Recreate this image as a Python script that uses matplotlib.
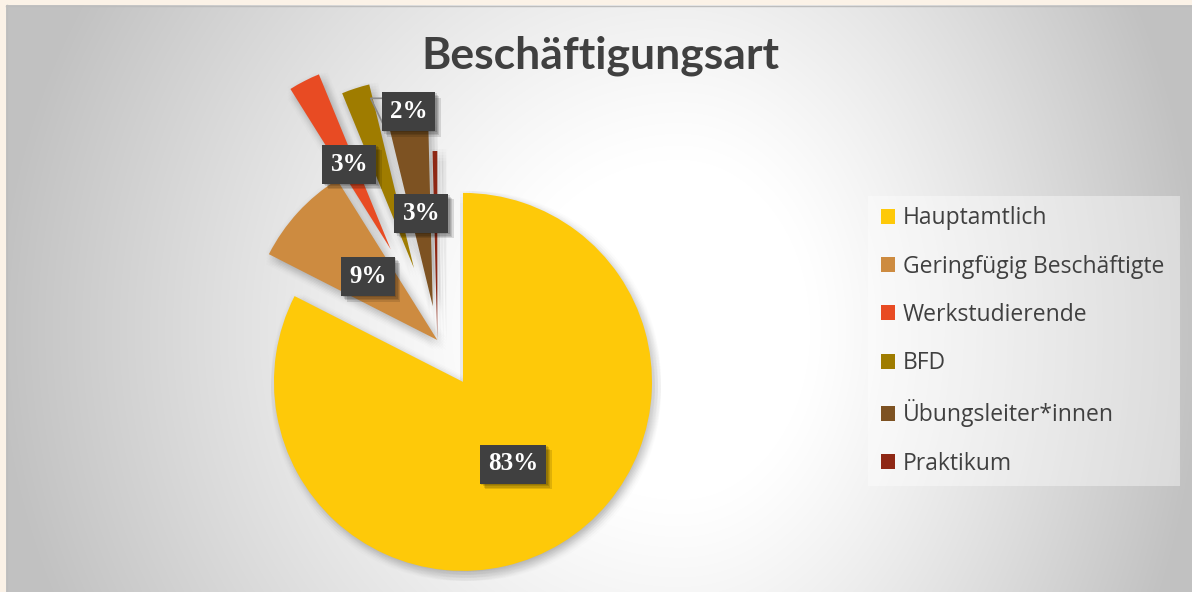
import numpy as np
import matplotlib.pyplot as plt
from matplotlib import patheffects as pe
from matplotlib.patches import Rectangle
from matplotlib.lines import Line2D
from matplotlib.transforms import ScaledTranslation

plt.rcParams.update({'font.family': ['Open Sans', 'DejaVu Sans']})

# data
categories = ['Hauptamtlich', 'Geringfügig Beschäftigte', 'Werkstudierende',
              'BFD', 'Übungsleiter*innen', 'Praktikum']
shares = [82.5, 8.6, 2.7, 2.4, 3.4, 0.4]
pct_labels = ['83%', '9%', '3%', '2%', '3%', '']
colors = ['#fec909', '#cd8b40', '#e84b23', '#9f7c00', '#7d5222', '#8e2714']
explode = [0.26, 0.0, 0.54, 0.40, 0.18, 0.0]

W, H = 1192, 592
R = 189.0  # pie radius in pixels -> one data unit


def px(x, y):
    # pixel position (from top-left) to data coords
    return x / R, (H - y) / R


fig = plt.figure(figsize=(W / 100, H / 100), dpi=100, facecolor='#fbf2e7')

# background gradient of the chart area
bg = fig.add_axes([6 / W, 0, (W - 6) / W, (H - 5) / H])
X, Y = np.meshgrid(np.arange(6, W) + 0.5, np.arange(5, H) + 0.5)
cx, cy = 680.0, 330.0
sx = np.where(X < cx, 680.0, 520.0)
u = np.hypot((X - cx) / sx, (Y - cy) / 680.0)
t = np.clip((u - 0.25) / 0.75, 0, 1) ** 1.15
g = 1 - 0.24 * t
bg.imshow(np.dstack([g, g, g]), aspect='auto', extent=(0, 1, 0, 1),
          interpolation='bilinear')
bg.set_axis_off()
# legend backdrop
bg.add_patch(Rectangle((868 / W, 1 - 486 / H), (1180 - 868) / W, (486 - 196) / H,
                       transform=fig.transFigure, fc='white', alpha=0.4, ec='none'))
fig.add_artist(Line2D([6.5 / W, 6.5 / W], [0, 1 - 5 / H], transform=fig.transFigure,
                      color='#bdbdbd', lw=1))
fig.add_artist(Line2D([6 / W, 1], [1 - 5.5 / H, 1 - 5.5 / H], transform=fig.transFigure,
                      color='#bdbdbd', lw=1))

ax = fig.add_axes([0, 0, 1, 1])
ax.set_facecolor('none')
center = px(437.3, 340)

# soft shadow: stacked translucent copies of the pie
for dx in (-3, 0, 3, 6, 9):
    for dy in (-10, -7, -4, -1, 2):
        sh, _ = ax.pie(shares, explode=explode, center=center, radius=1,
                       startangle=90, counterclock=False, colors=['k'] * len(shares),
                       wedgeprops=dict(alpha=0.013, linewidth=0))
        for w in sh:
            w.set_transform(ax.transData + ScaledTranslation(dx / 100, dy / 100,
                                                             fig.dpi_scale_trans))

wedges, _ = ax.pie(shares, explode=explode, center=center, radius=1,
                   startangle=90, counterclock=False, colors=colors,
                   wedgeprops=dict(linewidth=0))

# leader line of the BFD label
lx, ly = zip(px(383, 98.3), px(370.7, 98.3), px(382.7, 123.3))
ax.plot(lx, ly, color='#8a8a8a', lw=1.2)

# data labels
label_pos = [(513, 464), (368, 276.5), (349.3, 164.2), (408.5, 111.5), (421.3, 213.3), None]
box_shadow = [pe.SimplePatchShadow(offset=(o, -o), shadow_rgbFace='k', alpha=0.12)
              for o in (1, 2, 3, 4)] + [pe.Normal()]
for txt, pos in zip(pct_labels, label_pos):
    if not txt:
        continue
    tx = ax.text(*px(*pos), txt, ha='center', va='center', color='white',
                 fontsize=18, fontfamily=['Liberation Serif'], fontweight='bold',
                 bbox=dict(boxstyle='square,pad=0.32', fc='#404040', ec='none'))
    tx.get_bbox_patch().set_path_effects(box_shadow)

ax.text(*px(600.5, 68.3), 'Beschäftigungsart', ha='center', va='baseline',
        fontsize=32, fontweight='bold', fontfamily=['Lato', 'DejaVu Sans'],
        color='#404040')

ax.legend(wedges, categories, loc='center left',
          bbox_to_anchor=(881 / W, 1 - 341 / H), bbox_transform=fig.transFigure,
          frameon=False, fontsize=16.5, labelcolor='#404040',
          handlelength=0.62, handleheight=0.62, handletextpad=0.32,
          labelspacing=1.06, borderpad=0, borderaxespad=0)

ax.set_xlim(0, W / R)
ax.set_ylim(0, H / R)
ax.set_axis_off()

fig.savefig('out.png', dpi=100, facecolor=fig.get_facecolor())
